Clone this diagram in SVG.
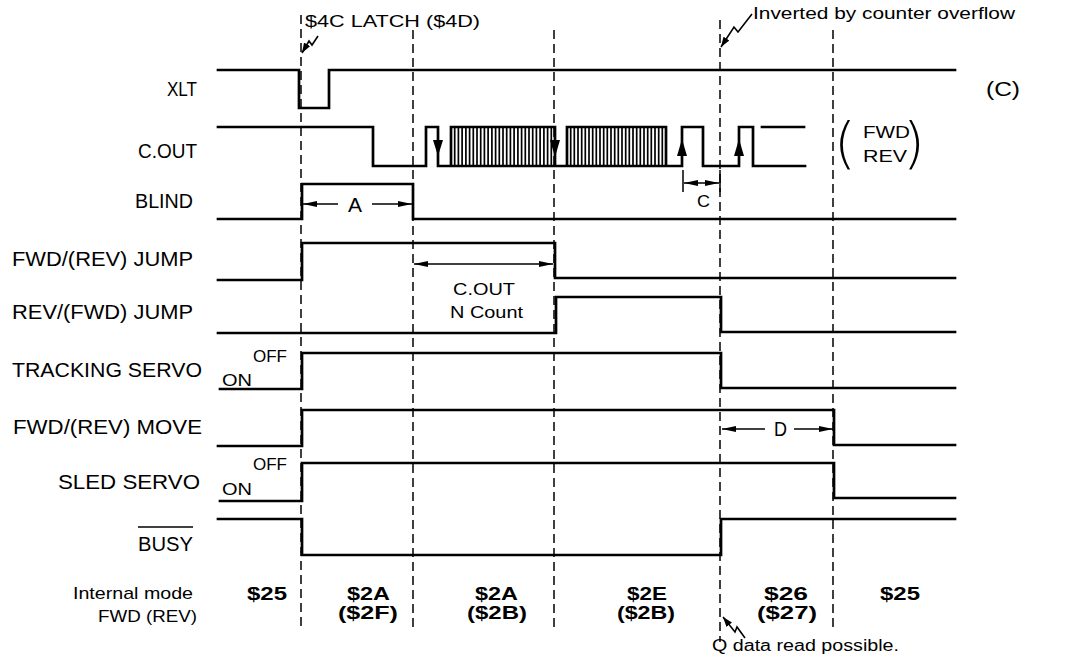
<svg xmlns="http://www.w3.org/2000/svg" width="1067" height="663" viewBox="0 0 1067 663">
<style>
.sig{fill:none;stroke:#000;stroke-width:2.7;stroke-linejoin:miter;stroke-linecap:square}
.hat{fill:none;stroke:#000;stroke-width:1.7}
.dash{fill:none;stroke:#000;stroke-width:1.5;stroke-dasharray:9 5}
.dim{fill:none;stroke:#000;stroke-width:1.5}
.call{fill:none;stroke:#000;stroke-width:1.6}
.t{font-family:"Liberation Sans",Arial,Helvetica,sans-serif;fill:#000}
.lbl{font-size:20px}
.sm{font-size:16px}
.md{font-size:17px}
.bd{font-size:19px;font-weight:bold}
.par{font-family:"DejaVu Sans","Liberation Sans",sans-serif;font-weight:200;font-size:56px;fill:#000}
</style>
<defs>
<marker id="ah" viewBox="0 0 14 6" refX="14" refY="3" markerWidth="14" markerHeight="6" markerUnits="userSpaceOnUse" orient="auto"><path d="M0,0 L14,3 L0,6 z" fill="#000"/></marker>
<marker id="ahc" viewBox="0 0 10 7" refX="10" refY="3.5" markerWidth="10" markerHeight="7" markerUnits="userSpaceOnUse" orient="auto"><path d="M0,0 L10,3.5 L0,7 z" fill="#000"/></marker>
</defs>
<rect width="1067" height="663" fill="#fff"/>

<g id="connectors">
  <path class="dash" d="M301,15 V630 M413,30 V630 M554,30 V630 M720,20 V642 M833,30 V630"/>
  <path class="dim" d="M338,204 H303" marker-end="url(#ah)"/>
  <path class="dim" d="M372,204 H412" marker-end="url(#ah)"/>
  <path class="dim" d="M480,264 H414" marker-end="url(#ah)"/>
  <path class="dim" d="M480,264 H553" marker-end="url(#ah)"/>
  <path class="dim" d="M683,170 V192 M720,170 V192"/>
  <path class="dim" d="M701,183 H684" marker-end="url(#ah)"/>
  <path class="dim" d="M701,183 H719" marker-end="url(#ah)"/>
  <path class="dim" d="M765,429 H722" marker-end="url(#ah)"/>
  <path class="dim" d="M794,429 H833" marker-end="url(#ah)"/>
  <polyline class="call" points="318,36 312,45 309,41 302,53" marker-end="url(#ahc)"/>
  <polyline class="call" points="752,14 738,32 734,27 721,47" marker-end="url(#ahc)"/>
  <polyline class="call" points="745,638 737,627 735,632 723,617" marker-end="url(#ahc)"/>
</g>

<g id="xlt">
  <text class="t lbl" x="167" y="96" textLength="30" lengthAdjust="spacingAndGlyphs">XLT</text>
  <path class="sig" d="M218,70 H299 V108 H329 V70 H955"/>
</g>

<g id="cout">
  <text class="t lbl" x="138" y="158" textLength="59" lengthAdjust="spacingAndGlyphs">C.OUT</text>
  <path class="sig" d="M218,127 H373 V166 H426 V127 H438 V166 H451 V127 H555 V166 H567 V127 H666 V166 H682 V127 H703 V166 H739 V127 H753 V166 H805 M762,127 H804 M451,166 H555 M567,166 H666"/>
  <path class="hat" d="M454.7,128V165M458.4,128V165M462.1,128V165M465.9,128V165M469.6,128V165M473.3,128V165M477,128V165M480.7,128V165M484.4,128V165M488.1,128V165M491.9,128V165M495.6,128V165M499.3,128V165M503,128V165M506.7,128V165M510.4,128V165M514.1,128V165M517.9,128V165M521.6,128V165M525.3,128V165M529,128V165M532.7,128V165M536.4,128V165M540.1,128V165M543.9,128V165M547.6,128V165M551.3,128V165"/>
  <path class="hat" d="M570.7,128V165M574.3,128V165M578,128V165M581.7,128V165M585.3,128V165M589,128V165M592.7,128V165M596.3,128V165M600,128V165M603.7,128V165M607.3,128V165M611,128V165M614.7,128V165M618.3,128V165M622,128V165M625.7,128V165M629.3,128V165M633,128V165M636.7,128V165M640.3,128V165M644,128V165M647.7,128V165M651.3,128V165M655,128V165M658.7,128V165M662.3,128V165"/>
  <polygon points="433,140 443,140 438,156" fill="#000"/>
  <polygon points="550,140 560,140 555,157" fill="#000"/>
  <polygon points="677,156 687,156 682,139" fill="#000"/>
  <polygon points="734,156 744,156 739,139" fill="#000"/>
  <text class="par" x="834" y="162">(</text>
  <text class="t sm" x="863" y="138" textLength="47" lengthAdjust="spacingAndGlyphs">FWD</text>
  <text class="t sm" x="863" y="162" textLength="44" lengthAdjust="spacingAndGlyphs">REV</text>
  <text class="par" x="903" y="162">)</text>
</g>

<g id="blind">
  <text class="t lbl" x="135" y="208" textLength="58" lengthAdjust="spacingAndGlyphs">BLIND</text>
  <path class="sig" d="M218,219 H302 V184 H413 V219 H955"/>
  <text class="t lbl" x="348" y="212" textLength="14" lengthAdjust="spacingAndGlyphs">A</text>
  <text class="t md" x="697" y="207" textLength="13" lengthAdjust="spacingAndGlyphs">C</text>
</g>

<g id="fwd-jump">
  <text class="t lbl" x="12" y="266" textLength="181" lengthAdjust="spacingAndGlyphs">FWD/(REV) JUMP</text>
  <path class="sig" d="M218,280 H302 V243 H555 V278 H955"/>
  <text class="t md" x="453" y="295" textLength="62" lengthAdjust="spacingAndGlyphs">C.OUT</text>
  <text class="t md" x="450" y="318" textLength="73" lengthAdjust="spacingAndGlyphs">N Count</text>
</g>

<g id="rev-jump">
  <text class="t lbl" x="12" y="319" textLength="181" lengthAdjust="spacingAndGlyphs">REV/(FWD) JUMP</text>
  <path class="sig" d="M218,333 H556 V297 H721 V332 H955"/>
</g>

<g id="tracking-servo">
  <text class="t lbl" x="12" y="377" textLength="190" lengthAdjust="spacingAndGlyphs">TRACKING SERVO</text>
  <text class="t sm" x="253" y="362" textLength="34" lengthAdjust="spacingAndGlyphs">OFF</text>
  <text class="t sm" x="222" y="386" textLength="30" lengthAdjust="spacingAndGlyphs">ON</text>
  <path class="sig" d="M220,389 H302 V353 H721 V388 H955"/>
</g>

<g id="fwd-move">
  <text class="t lbl" x="13" y="434" textLength="189" lengthAdjust="spacingAndGlyphs">FWD/(REV) MOVE</text>
  <path class="sig" d="M218,446 H302 V410 H834 V445 H955"/>
  <text class="t lbl" x="774" y="436" textLength="13" lengthAdjust="spacingAndGlyphs">D</text>
</g>

<g id="sled-servo">
  <text class="t lbl" x="58" y="489" textLength="142" lengthAdjust="spacingAndGlyphs">SLED SERVO</text>
  <text class="t sm" x="253" y="470" textLength="34" lengthAdjust="spacingAndGlyphs">OFF</text>
  <text class="t sm" x="222" y="495" textLength="30" lengthAdjust="spacingAndGlyphs">ON</text>
  <path class="sig" d="M220,501 H302 V463 H834 V498 H955"/>
</g>

<g id="busy">
  <text class="t lbl" x="138" y="551" textLength="55" lengthAdjust="spacingAndGlyphs">BUSY</text>
  <path class="dim" d="M138,527 H193"/>
  <path class="sig" d="M218,519 H302 V555 H721 V519 H955"/>
</g>

<g id="internal-mode">
  <text class="t md" x="73" y="599" textLength="120" lengthAdjust="spacingAndGlyphs">Internal mode</text>
  <text class="t md" x="98" y="622" textLength="99" lengthAdjust="spacingAndGlyphs">FWD (REV)</text>
  <text class="t bd" x="247" y="600" textLength="40" lengthAdjust="spacingAndGlyphs">$25</text>
  <text class="t bd" x="347" y="600" textLength="43" lengthAdjust="spacingAndGlyphs">$2A</text>
  <text class="t bd" x="338" y="619" textLength="60" lengthAdjust="spacingAndGlyphs">($2F)</text>
  <text class="t bd" x="475" y="600" textLength="43" lengthAdjust="spacingAndGlyphs">$2A</text>
  <text class="t bd" x="467" y="619" textLength="60" lengthAdjust="spacingAndGlyphs">($2B)</text>
  <text class="t bd" x="627" y="600" textLength="40" lengthAdjust="spacingAndGlyphs">$2E</text>
  <text class="t bd" x="617" y="619" textLength="58" lengthAdjust="spacingAndGlyphs">($2B)</text>
  <text class="t bd" x="764" y="600" textLength="44" lengthAdjust="spacingAndGlyphs">$26</text>
  <text class="t bd" x="757" y="619" textLength="60" lengthAdjust="spacingAndGlyphs">($27)</text>
  <text class="t bd" x="880" y="600" textLength="40" lengthAdjust="spacingAndGlyphs">$25</text>
</g>

<g id="notes">
  <text class="t md" x="305" y="27" textLength="175" lengthAdjust="spacingAndGlyphs">$4C LATCH ($4D)</text>
  <text class="t md" x="753" y="19" textLength="262" lengthAdjust="spacingAndGlyphs">Inverted by counter overflow</text>
  <text class="t lbl" x="986" y="96" textLength="34" lengthAdjust="spacingAndGlyphs">(C)</text>
  <text class="t sm" x="712" y="651" textLength="187" lengthAdjust="spacingAndGlyphs">Q data read possible.</text>
</g>
</svg>
